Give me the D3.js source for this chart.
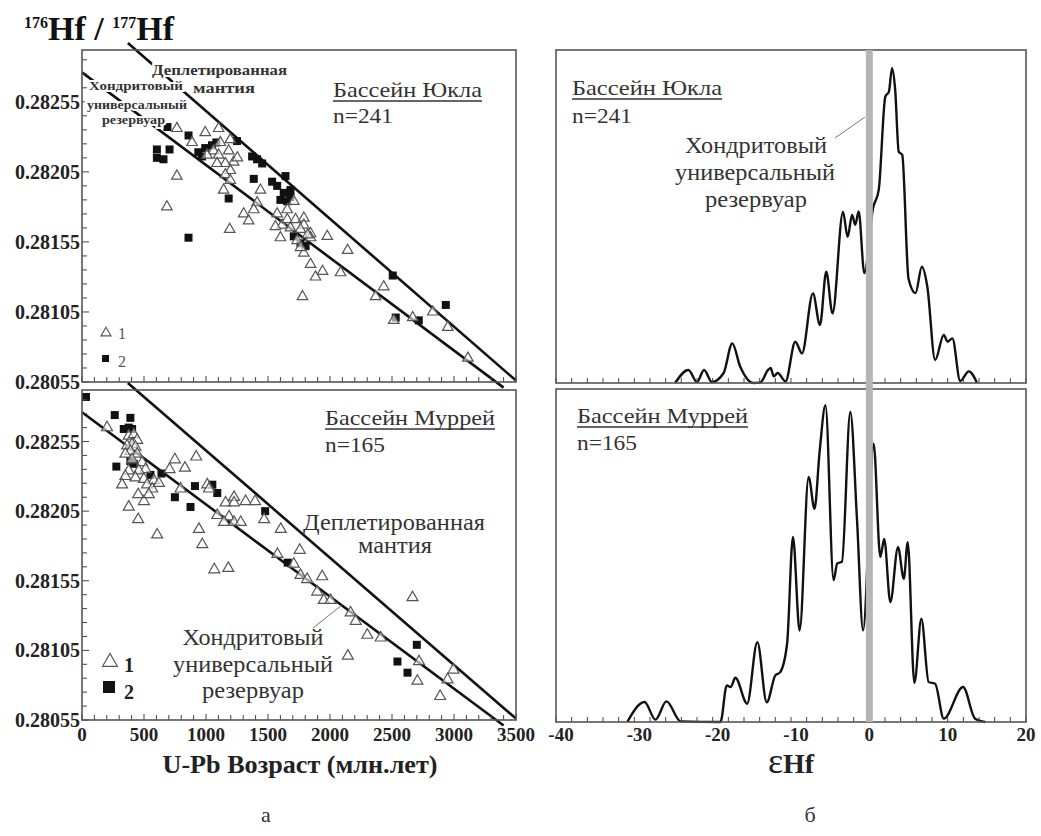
<!DOCTYPE html>
<html>
<head>
<meta charset="utf-8">
<script src="https://cdn.jsdelivr.net/npm/d3@7"></script>
<style>
  body { margin: 0; background: #fff; }
  svg { display: block; }
  text { font-family: "Liberation Serif", "Times New Roman", "DejaVu Serif", serif; }
</style>
</head>
<body>
<svg id="chart" width="1041" height="836"></svg>
<script>
// ---- data ----
const ageTicks = [0, 500, 1000, 1500, 2000, 2500, 3000, 3500];
const ratioTicks = [0.28055, 0.28105, 0.28155, 0.28205, 0.28255];
const ehfTicks = [-40, -30, -20, -10, 0, 10, 20];

// depleted mantle and CHUR evolution lines [age, 176Hf/177Hf]
const dmLine = [[370, 0.28297], [3500, 0.28056]];
const churLine = [[0, 0.28276], [3400, 0.28051]];

// Yukla basin, type 1 (triangles) and type 2 (squares)
const yuklaTri = [
  [765, 0.28236], [994, 0.28233], [1102, 0.28236], [887, 0.28226], [1196, 0.28228],
  [1115, 0.28226], [1061, 0.28220], [1183, 0.28220], [1102, 0.28217], [1008, 0.28217],
  [1223, 0.28212], [1156, 0.28211], [1089, 0.28211], [1196, 0.28206], [1156, 0.28203],
  [765, 0.28202], [1196, 0.28199], [1142, 0.28192], [1439, 0.28192], [1412, 0.28183],
  [1304, 0.28175], [1385, 0.28178], [1344, 0.28170], [685, 0.28180], [1191, 0.28164],
  [1574, 0.28175], [1655, 0.28178], [1708, 0.28184], [1614, 0.28167], [1655, 0.28171],
  [1722, 0.28171], [1789, 0.28172], [1789, 0.28167], [1560, 0.28166], [1681, 0.28165],
  [1762, 0.28164], [1843, 0.28161], [1600, 0.28158], [1978, 0.28159], [1735, 0.28156],
  [1789, 0.28147], [1843, 0.28158], [1762, 0.28151], [1819, 0.28160], [1843, 0.28139],
  [1940, 0.28134], [1883, 0.28130], [2085, 0.28133], [2142, 0.28149], [1778, 0.28116],
  [2433, 0.28123], [2368, 0.28116], [2514, 0.28099], [2667, 0.28101], [2829, 0.28105],
  [2950, 0.28094], [3112, 0.28072], [1253, 0.28215]
];
const yuklaSq = [
  [689, 0.28237], [859, 0.28231], [604, 0.28221], [604, 0.28215], [657, 0.28214],
  [706, 0.28221], [938, 0.28219], [994, 0.28222], [1048, 0.28224], [968, 0.28216],
  [1083, 0.28226], [1250, 0.28227], [1372, 0.28216], [1412, 0.28214], [1453, 0.28211],
  [1385, 0.28200], [1533, 0.28198], [1574, 0.28195], [1641, 0.28202], [1627, 0.28190],
  [1681, 0.28192], [1600, 0.28185], [1655, 0.28184], [1681, 0.28187], [1183, 0.28186],
  [859, 0.28158], [1708, 0.28159], [1762, 0.28154], [1803, 0.28152], [2506, 0.28131],
  [2934, 0.28110], [2530, 0.28101], [2716, 0.28099]
];

// Murray basin
const murrayTri = [
  [202, 0.28265], [377, 0.28259], [418, 0.28260], [445, 0.28256], [404, 0.28253],
  [364, 0.28252], [431, 0.28251], [390, 0.28248], [445, 0.28246], [350, 0.28246],
  [404, 0.28242], [485, 0.28240], [512, 0.28235], [458, 0.28234], [377, 0.28234],
  [350, 0.28230], [431, 0.28229], [499, 0.28228], [580, 0.28227], [525, 0.28224],
  [323, 0.28224], [453, 0.28217], [499, 0.28212], [566, 0.28221], [620, 0.28225],
  [539, 0.28217], [377, 0.28208], [453, 0.28199], [606, 0.28188], [749, 0.28242],
  [706, 0.28235], [830, 0.28236], [921, 0.28244], [795, 0.28221], [1010, 0.28224],
  [1024, 0.28221], [1226, 0.28215], [1158, 0.28211], [1226, 0.28211], [1320, 0.28212],
  [1396, 0.28212], [1091, 0.28202], [1186, 0.28201], [1145, 0.28197], [1226, 0.28197],
  [1280, 0.28197], [943, 0.28192], [970, 0.28181], [1469, 0.28199], [1603, 0.28192],
  [1576, 0.28174], [1756, 0.28177], [1067, 0.28163], [1180, 0.28164], [1708, 0.28167],
  [1762, 0.28159], [1816, 0.28156], [1937, 0.28158], [1897, 0.28147], [1950, 0.28141],
  [2005, 0.28141], [2166, 0.28132], [2207, 0.28126], [2301, 0.28116], [2409, 0.28114],
  [2144, 0.28101], [2665, 0.28143], [2718, 0.28097], [2705, 0.28083], [2948, 0.28084],
  [2996, 0.28091], [2888, 0.28072]
];
const murraySq = [
  [32, 0.28287], [264, 0.28274], [390, 0.28272], [337, 0.28264], [377, 0.28265],
  [404, 0.28264], [390, 0.28241], [277, 0.28237], [418, 0.28239], [552, 0.28231],
  [641, 0.28232], [911, 0.28223], [749, 0.28215], [875, 0.28208], [1051, 0.28224],
  [1091, 0.28218], [1477, 0.28205], [1659, 0.28168], [2700, 0.28109], [2544, 0.28097],
  [2625, 0.28089]
];

// probability density curves of eHf (relative height 0..1)
const yuklaKde = [
  [-24.8, 0], [-23.1, 0.039], [-22.0, 0.003], [-21.1, 0.039], [-20.1, 0.003],
  [-18.6, 0.03], [-17.5, 0.119], [-16.5, 0.05], [-14.8, 0], [-13.9, 0.002],
  [-12.9, 0.04], [-12.6, 0.045], [-12.2, 0.02], [-11.7, 0.03], [-10.7, 0.005],
  [-9.45, 0.124], [-8.6, 0.089], [-7.2, 0.269], [-6.3, 0.174], [-5.5, 0.334],
  [-4.7, 0.209], [-3.36, 0.514], [-2.77, 0.439], [-2.2, 0.505], [-1.8, 0.475],
  [-1.36, 0.515], [-0.64, 0.33], [0.47, 0.525], [1.2, 0.58], [2.04, 0.86],
  [2.5, 0.875], [2.9, 0.945], [3.3, 0.88], [3.75, 0.695], [4.2, 0.685],
  [5.0, 0.314], [5.9, 0.27], [6.7, 0.349], [7.4, 0.29], [8.4, 0.069],
  [9.5, 0.144], [10.0, 0.124], [10.6, 0.134], [11.6, 0.006], [12.7, 0.035],
  [13.75, 0]
];
const murrayKde = [
  [-30.9, 0], [-28.7, 0.06], [-27.3, 0.007], [-25.9, 0.062], [-24.1, 0.002],
  [-19.0, 0], [-18.2, 0.11], [-17.7, 0.105], [-17.1, 0.133], [-15.6, 0.055],
  [-14.3, 0.24], [-13.1, 0.059], [-12.0, 0.14], [-11.4, 0.149], [-10.5, 0.235],
  [-9.75, 0.556], [-8.9, 0.275], [-7.75, 0.736], [-7.0, 0.64], [-6.35, 0.811],
  [-5.6, 0.951], [-4.56, 0.426], [-4.1, 0.476], [-3.5, 0.481], [-2.43, 0.931],
  [-1.57, 0.606], [-0.8, 0.275], [0.55, 0.836], [1.4, 0.496], [1.9, 0.55],
  [2.68, 0.36], [3.66, 0.525], [4.4, 0.43], [4.9, 0.54], [5.75, 0.117],
  [6.64, 0.31], [7.57, 0.12], [8.4, 0.115], [9.5, 0.01], [11.96, 0.105],
  [13.5, 0.01], [14.8, 0]
];

const svg = d3.select("#chart");
const frameColor = "#555";
const textColor = "#333";

// ---- scales ----
const xAge = d3.scaleLinear().domain([0, 3500]).range([82, 516]);
const yTop = d3.scaleLinear().domain([0.28055, 0.28292]).range([382, 50]);
const yBot = d3.scaleLinear().domain([0.28055, 0.28292]).range([720, 390]);
const xEhf = d3.scaleLinear().domain([-40, 20]).range([556, 1026]);
const dTop = d3.scaleLinear().domain([0, 1]).range([383, 50]);
const dBot = d3.scaleLinear().domain([0, 1]).range([722, 389]);

// inward ticks + frame for one age panel
function agePanel(y, showLabels) {
    const g = svg.append("g");
    const [y0, y1] = y.range();
    // x ticks every 100 Ma
    g.selectAll(".xt").data(d3.range(0, 3501, 100)).enter().append("line")
        .attr("x1", d => xAge(d)).attr("x2", d => xAge(d))
        .attr("y1", y0).attr("y2", d => y0 - (d % 500 === 0 ? 6 : 5))
        .attr("stroke", "#444").attr("stroke-width", 1);
    // y ticks every 0.0001
    g.selectAll(".yt").data(d3.range(0, 24)).enter().append("line")
        .attr("x1", 82).attr("x2", d => 82 + (d % 5 === 0 ? 7 : 5))
        .attr("y1", d => y(0.28055 + d * 0.0001)).attr("y2", d => y(0.28055 + d * 0.0001))
        .attr("stroke", "#444").attr("stroke-width", 1);
    g.selectAll(".yl").data(ratioTicks).enter().append("text")
        .attr("x", 80).attr("y", d => y(d) + 7)
        .attr("text-anchor", "end").attr("font-size", 20).attr("font-weight", "bold")
        .attr("fill", "#222")
        .text(d => d.toFixed(5));
    if (showLabels) {
        g.selectAll(".xl").data(ageTicks).enter().append("text")
            .attr("x", d => xAge(d)).attr("y", y0 + 21)
            .attr("text-anchor", "middle").attr("font-size", 19).attr("font-weight", "bold")
            .attr("fill", "#222")
            .text(d => d);
    }
    g.append("rect").attr("x", 82).attr("y", y1).attr("width", 516 - 82).attr("height", y0 - y1)
        .attr("fill", "none").attr("stroke", frameColor).attr("stroke-width", 1.6);
}

function ehfPanel(d, showLabels) {
    const g = svg.append("g");
    const [y0, y1] = d.range();
    g.selectAll(".xt").data(d3.range(-40, 21, 2)).enter().append("line")
        .attr("x1", v => xEhf(v)).attr("x2", v => xEhf(v))
        .attr("y1", y0).attr("y2", y0 - 5)
        .attr("stroke", "#444").attr("stroke-width", 1);
    if (showLabels) {
        g.selectAll(".xl").data(ehfTicks).enter().append("text")
            .attr("x", v => xEhf(v) + (v < 0 ? 5 : 0)).attr("y", y0 + 19)
            .attr("text-anchor", "middle").attr("font-size", 19).attr("font-weight", "bold")
            .attr("fill", "#222")
            .text(v => v);
    }
    g.append("rect").attr("x", 556).attr("y", y1).attr("width", 1026 - 556).attr("height", y0 - y1)
        .attr("fill", "none").attr("stroke", frameColor).attr("stroke-width", 1.6);
}

function evoLines(y) {
    const line = d3.line().x(p => xAge(p[0])).y(p => y(p[1]));
    [dmLine, churLine].forEach(l => {
        svg.append("path").attr("d", line(l))
            .attr("fill", "none").attr("stroke", "#111").attr("stroke-width", 2.6);
    });
}

function points(tri, sq, y, triSize, sqSize) {
    svg.append("g").selectAll("rect").data(sq).enter().append("rect")
        .attr("x", p => xAge(p[0]) - sqSize / 2).attr("y", p => y(p[1]) - sqSize / 2)
        .attr("width", sqSize).attr("height", sqSize).attr("fill", "#111");
    svg.append("g").selectAll("path").data(tri).enter().append("path")
        .attr("d", d3.symbol(d3.symbolTriangle, triSize))
        .attr("transform", p => `translate(${xAge(p[0])},${y(p[1])})`)
        .attr("fill", "#fff").attr("fill-opacity", 0.6)
        .attr("stroke", "#555").attr("stroke-width", 1.2);
}

function label(x, y, txt, opts = {}) {
    const t = svg.append("text").attr("x", x).attr("y", y)
        .attr("font-size", opts.size || 22)
        .attr("font-weight", opts.bold ? "bold" : "normal")
        .attr("fill", opts.color || textColor)
        .attr("text-anchor", opts.anchor || "start")
        .text(txt);
    if (opts.len) t.attr("textLength", opts.len).attr("lengthAdjust", "spacingAndGlyphs");
    if (opts.halo) t.attr("stroke", "#fff").attr("stroke-width", 4).attr("paint-order", "stroke");
    if (opts.underline) {
        const w = opts.len;
        const x0 = opts.anchor === "middle" ? x - w / 2 : x;
        svg.append("line").attr("x1", x0).attr("x2", x0 + w).attr("y1", y + 4).attr("y2", y + 4)
            .attr("stroke", opts.color || textColor).attr("stroke-width", 1.3);
    }
    return t;
}

// ---- left: age vs ratio ----
evoLines(yTop);
points(yuklaTri, yuklaSq, yTop, 48, 8);
agePanel(yTop, false);

evoLines(yBot);
points(murrayTri, murraySq, yBot, 52, 8);
agePanel(yBot, true);

// annotations, top-left
label(152, 75, "Деплетированная", {size: 15, bold: true, len: 135, halo: true});
label(193, 93, "мантия", {size: 15, bold: true, len: 62, halo: true});
label(89, 90, "Хондритовый", {size: 13, bold: true, len: 94, halo: true});
label(87, 109, "универсальный", {size: 13, bold: true, len: 100, halo: true});
label(102, 124, "резервуар", {size: 13, bold: true, len: 63, halo: true});
label(333, 97, "Бассейн Юкла", {size: 22, len: 149, underline: true});
label(333, 123, "n=241", {size: 22, len: 60});

// legend, top-left
svg.append("path").attr("d", d3.symbol(d3.symbolTriangle, 44))
    .attr("transform", `translate(${106},${333})`)
    .attr("fill", "#fff").attr("stroke", "#555").attr("stroke-width", 1.1);
svg.append("rect").attr("x", 102).attr("y", 355).attr("width", 7).attr("height", 7).attr("fill", "#111");
label(118, 339, "1", {size: 16, color: "#555"});
label(118, 367, "2", {size: 16, color: "#555"});

// annotations, bottom-left
label(325, 425, "Бассейн Муррей", {size: 22, len: 170, underline: true});
label(325, 452, "n=165", {size: 22, len: 60});
label(394, 530, "Деплетированная", {size: 23, anchor: "middle", len: 182});
label(395, 553, "мантия", {size: 23, anchor: "middle", len: 74});
label(253, 645, "Хондритовый", {size: 23, anchor: "middle", len: 141});
label(253, 672, "универсальный", {size: 23, anchor: "middle", len: 160});
label(253, 698, "резервуар", {size: 23, anchor: "middle", len: 102});
svg.append("line").attr("x1", 313).attr("y1", 628).attr("x2", 342).attr("y2", 605)
    .attr("stroke", "#777").attr("stroke-width", 1);

svg.append("path").attr("d", d3.symbol(d3.symbolTriangle, 95))
    .attr("transform", `translate(${110},${662})`)
    .attr("fill", "#fff").attr("stroke", "#555").attr("stroke-width", 1.2);
svg.append("rect").attr("x", 103).attr("y", 681).attr("width", 12).attr("height", 12).attr("fill", "#111");
label(124, 672, "1", {size: 20, bold: true, color: "#222"});
label(124, 699, "2", {size: 20, bold: true, color: "#222"});

// y axis title
const yt = svg.append("text").attr("x", 24).attr("y", 40).attr("font-weight", "bold").attr("fill", "#111");
yt.append("tspan").attr("font-size", 16).attr("dy", -12).text("176");
yt.append("tspan").attr("font-size", 34).attr("dy", 12).text("Hf / ");
yt.append("tspan").attr("font-size", 16).attr("dy", -12).text("177");
yt.append("tspan").attr("font-size", 34).attr("dy", 12).text("Hf");

label(300, 773, "U-Pb Возраст (млн.лет)", {size: 26, bold: true, anchor: "middle", len: 275, color: "#222"});

// ---- right: eHf density ----
const kdeLine = d => d3.line().x(p => xEhf(p[0])).y(p => d(p[1])).curve(d3.curveMonotoneX);
svg.append("path").attr("d", kdeLine(dTop)(yuklaKde))
    .attr("fill", "none").attr("stroke", "#111").attr("stroke-width", 2.4);
svg.append("path").attr("d", kdeLine(dBot)(murrayKde))
    .attr("fill", "none").attr("stroke", "#111").attr("stroke-width", 2.4);
ehfPanel(dTop, false);
ehfPanel(dBot, true);

// CHUR band at eHf = 0
svg.append("rect").attr("x", xEhf(0) - 3.5).attr("y", 50).attr("width", 7).attr("height", 722 - 50)
    .attr("fill", "#b5b5b5");

label(572, 95, "Бассейн Юкла", {size: 22, len: 150, underline: true});
label(572, 123, "n=241", {size: 22, len: 60});
label(756, 153, "Хондритовый", {size: 23, anchor: "middle", len: 142});
label(755, 180, "универсальный", {size: 23, anchor: "middle", len: 160});
label(756, 207, "резервуар", {size: 23, anchor: "middle", len: 102});
svg.append("line").attr("x1", 835).attr("y1", 138).attr("x2", 865).attr("y2", 117)
    .attr("stroke", "#777").attr("stroke-width", 1);

label(577, 423, "Бассейн Муррей", {size: 22, len: 171, underline: true});
label(577, 450, "n=165", {size: 22, len: 60});

// eHf axis title with a tall epsilon
const et = svg.append("text").attr("x", 791).attr("y", 773).attr("text-anchor", "middle")
    .attr("font-weight", "bold").attr("fill", "#222");
et.append("tspan").attr("font-size", 36).attr("font-weight", "normal").text("ε");
et.append("tspan").attr("font-size", 28).text("Hf");

// figure letters
label(266, 822, "а", {size: 22, anchor: "middle"});
label(810, 822, "б", {size: 22, anchor: "middle"});
</script>
</body>
</html>
